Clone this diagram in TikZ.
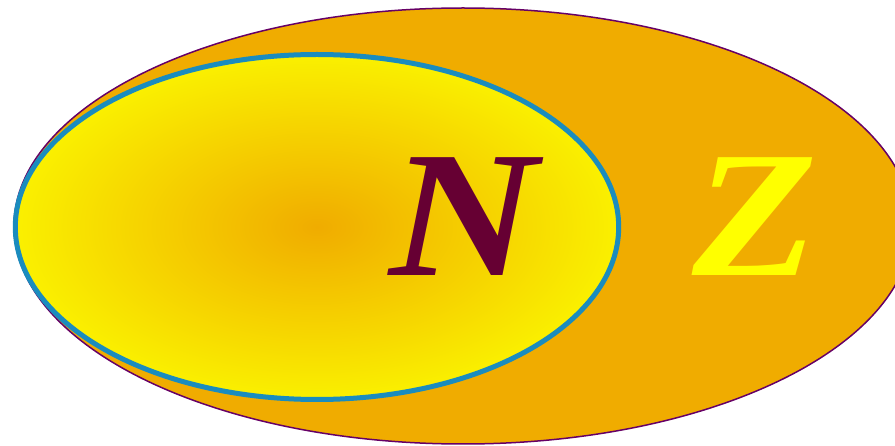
\documentclass[tikz,border=0pt]{standalone}
\usepackage{fontspec}
\setmainfont{Liberation Serif}
\definecolor{outerorange}{HTML}{F0AC00}
\definecolor{outerline}{HTML}{660066}
\definecolor{innerline}{HTML}{1A8CBE}
\definecolor{shadecenter}{HTML}{F0AC00}
\definecolor{shadeedge}{HTML}{FAF000}
\definecolor{nletter}{HTML}{660033}
\definecolor{zletter}{HTML}{FFFF00}
\begin{document}
\begin{tikzpicture}[x=1pt,y=-1pt,
  setletter/.style={inner sep=0pt,xscale=1.14,font=\fontsize{180}{180}\selectfont\bfseries\itshape}]
\useasboundingbox (0,0) rectangle (895,446);
\begin{scope}
\clip (0,0) rectangle (895,446);
\fill[outerorange,draw=outerline,line width=1.5pt] (463,226) ellipse [x radius=449,y radius=218];
\end{scope}
\shade[inner color=shadecenter,outer color=shadeedge] (317,227) ellipse [x radius=301.7,y radius=172.5];
\draw[innerline,line width=5pt] (317,227) ellipse [x radius=301.7,y radius=172.5];
\node[setletter,text=nletter,anchor=base] (N) at (464,276) {N};
\node[setletter,text=zletter,anchor=base] (Z) at (755,276) {Z};
\end{tikzpicture}
\end{document}
